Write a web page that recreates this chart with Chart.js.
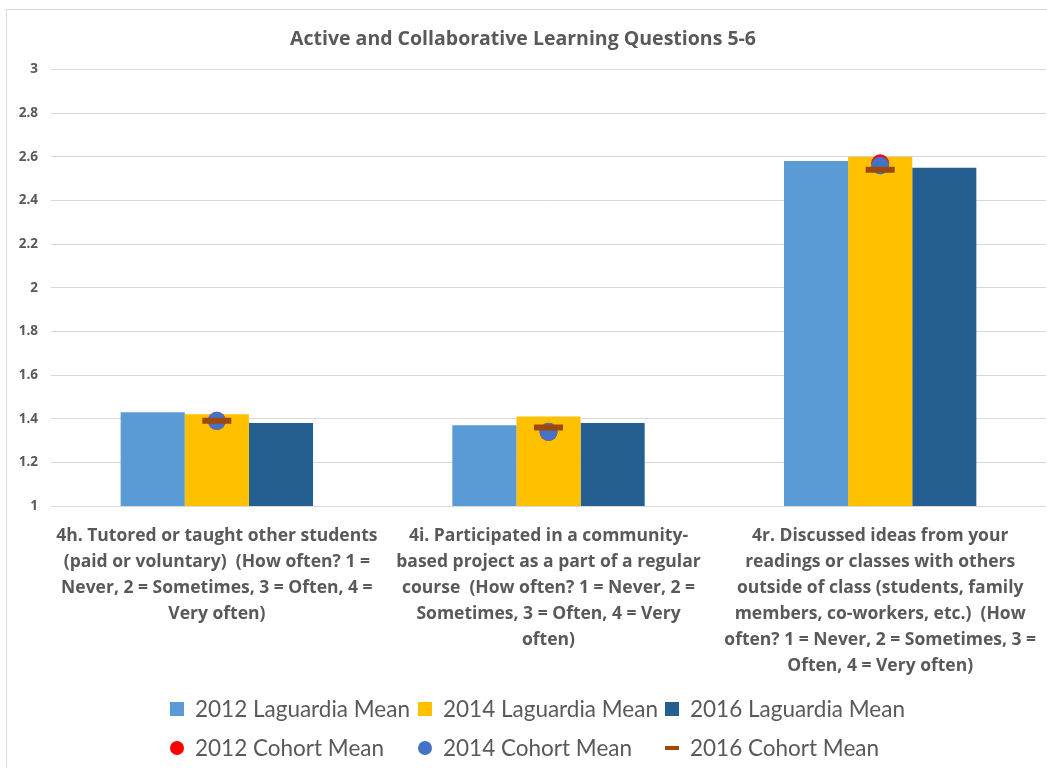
<!DOCTYPE html>
<html>
<head>
<meta charset="utf-8">
<script src="https://cdn.jsdelivr.net/npm/chart.js@4/dist/chart.umd.min.js"></script>
<style>
  html, body { margin: 0; background: #fff; overflow: hidden; width: 1047px; height: 768px; }
  body { font-family: Lato, "Liberation Sans", sans-serif; }
  #frame { position: absolute; left: 6px; top: 9px; width: 1050px; height: 770px; border: 1px solid #d9d9d9; box-sizing: border-box; }
  #wrap { position: absolute; left: 0; top: 0; width: 1047px; height: 690px; }
  #legend { position: absolute; left: 0; top: 689px; width: 1047px; }
  .row { position: relative; height: 39px; }
  .item { position: absolute; top: 0; height: 39px; display: flex; align-items: center; font-size: 22.5px; color: #595959; white-space: nowrap; }
  .mark { display: inline-block; margin-right: 11px; }
</style>
</head>
<body>
<div id="frame"></div>
<div id="wrap"><canvas id="grafico"></canvas></div>
<div id="legend"></div>
<script>
const categorias = [
  ["4h. Tutored or taught other students", "(paid or voluntary)  (How often? 1 =", "Never, 2 = Sometimes, 3 = Often, 4 =", "Very often)"],
  ["4i. Participated in a community-", "based project as a part of a regular", "course  (How often? 1 = Never, 2 =", "Sometimes, 3 = Often, 4 = Very", "often)"],
  ["4r. Discussed ideas from your", "readings or classes with others", "outside of class (students, family", "members, co-workers, etc.)  (How", "often? 1 = Never, 2 = Sometimes, 3 =", "Often, 4 = Very often)"]
];

const laguardia2012 = [1.43, 1.37, 2.58];
const laguardia2014 = [1.42, 1.41, 2.60];
const laguardia2016 = [1.38, 1.38, 2.55];

const cohort2012 = [1.39, 1.34, 2.57];
const cohort2014 = [1.39, 1.34, 2.56];
const cohort2016 = [1.39, 1.36, 2.54];

const yTicks = [1, 1.2, 1.4, 1.6, 1.8, 2, 2.2, 2.4, 2.6, 2.8, 3];

const cinza = "#595959";
const fonte = "'Open Sans', sans-serif";

const datasets = [
  { type: "bar", label: "2012 Laguardia Mean", data: laguardia2012, backgroundColor: "#5B9BD5", order: 10 },
  { type: "bar", label: "2014 Laguardia Mean", data: laguardia2014, backgroundColor: "#FFC000", order: 10 },
  { type: "bar", label: "2016 Laguardia Mean", data: laguardia2016, backgroundColor: "#255E91", order: 10 },
  { type: "line", label: "2012 Cohort Mean", data: cohort2012, showLine: false, pointStyle: "circle",
    pointRadius: 9, pointBackgroundColor: "#FF0000", pointBorderWidth: 0, borderColor: "#FF0000", order: 3 },
  { type: "line", label: "2014 Cohort Mean", data: cohort2014, showLine: false, pointStyle: "circle",
    pointRadius: 9, pointBackgroundColor: "#4472C4", pointBorderWidth: 0, borderColor: "#4472C4", order: 2 },
  { type: "line", label: "2016 Cohort Mean", data: cohort2016, showLine: false, pointStyle: "line",
    pointRadius: 14.5, pointBorderWidth: 6, pointBorderColor: "#9E480E", borderColor: "#9E480E", order: 1 }
];

new Chart(document.getElementById("grafico"), {
  data: { labels: categorias, datasets: datasets },
  options: {
    responsive: true,
    maintainAspectRatio: false,
    animation: false,
    layout: { autoPadding: false, padding: { left: 0, right: 1, top: 0, bottom: 0 } },
    datasets: { bar: { barPercentage: 1, categoryPercentage: 0.58 } },
    plugins: {
      legend: { display: false },
      tooltip: { enabled: false },
      title: {
        display: true,
        text: "Active and Collaborative Learning Questions 5-6",
        color: cinza,
        font: { family: fonte, size: 19.5, weight: "bold", lineHeight: 1.2 },
        padding: { top: 28, bottom: 18 }
      }
    },
    scales: {
      x: {
        grid: { display: false },
        border: { display: false },
        ticks: {
          color: cinza,
          maxRotation: 0,
          autoSkip: false,
          padding: 9,
          font: { family: fonte, size: 17.5, weight: "bold", lineHeight: 26 / 17.5 }
        },
        afterFit: function (s) { s.height = 184; s.paddingLeft = 0; s.paddingRight = 0; }
      },
      y: {
        min: 1,
        max: 3,
        afterBuildTicks: function (s) { s.ticks = yTicks.map(function (v) { return { value: v }; }); },
        grid: { color: "#d9d9d9", lineWidth: 1, drawTicks: false },
        border: { display: false },
        ticks: {
          color: cinza,
          padding: 13,
          font: { family: fonte, size: 13.5, weight: "bold" },
          callback: function (v) { return String(parseFloat(Number(v).toFixed(1))); }
        },
        afterFit: function (s) { s.width = 51; }
      }
    }
  }
});

// legenda em HTML, montada a partir dos datasets
const legenda = document.getElementById("legend");
const colunas = [170, 418, 665];
for (let r = 0; r < 2; r++) {
  const row = document.createElement("div");
  row.className = "row";
  for (let c = 0; c < 3; c++) {
    const ds = datasets[r * 3 + c];
    const item = document.createElement("div");
    item.className = "item";
    item.style.left = colunas[c] + "px";
    const mark = document.createElement("span");
    mark.className = "mark";
    if (ds.type === "bar") {
      mark.style.cssText = "width:14px;height:14px;background:" + ds.backgroundColor;
    } else if (ds.pointStyle === "circle") {
      mark.style.cssText = "width:14px;height:14px;border-radius:50%;background:" + ds.pointBackgroundColor;
    } else {
      mark.style.cssText = "width:14px;height:4px;background:" + ds.pointBorderColor;
    }
    item.appendChild(mark);
    item.appendChild(document.createTextNode(ds.label));
    row.appendChild(item);
  }
  legenda.appendChild(row);
}
</script>
</body>
</html>
